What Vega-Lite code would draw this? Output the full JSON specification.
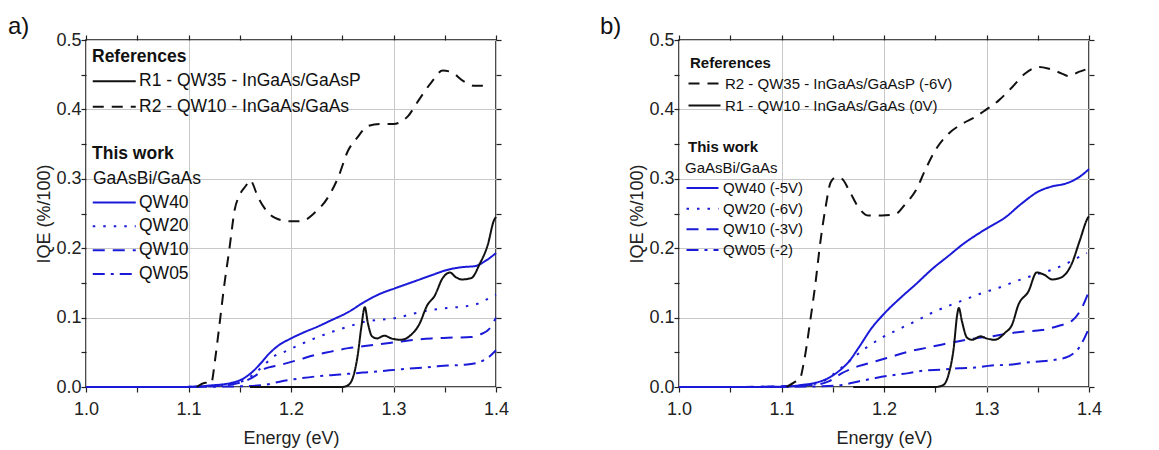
{
  "$schema": "https://vega.github.io/schema/vega-lite/v6.json",
  "padding": {"left": 7, "top": 14, "right": 0, "bottom": 0},
  "background": "white",
  "config": {
    "font": "Liberation Sans",
    "view": {"stroke": "#111", "strokeWidth": 1.5},
    "axis": {"labelFont": "Liberation Sans", "labelFontSize": 18, "titleFont": "Liberation Sans", "titleFontSize": 18, "titleFontWeight": "normal", "labelColor": "#222", "titleColor": "#222", "tickColor": "#222", "domain": false, "tickSize": 5, "tickWidth": 1.2, "labelFlush": false, "labelOverlap": false},
    "legend": {"labelFont": "Liberation Sans", "titleFont": "Liberation Sans", "labelColor": "#111", "titleColor": "#111", "padding": 0, "titleFontWeight": "bold", "labelLimit": 500, "titleLimit": 500}
  },
  "datasets": {
    "d": [
      {"p":"a","g":"w","s":"QW40","E":1.0,"v":0},{"p":"a","g":"w","s":"QW40","E":1.1,"v":0},{"p":"a","g":"w","s":"QW40","E":1.12,"v":0.002},{"p":"a","g":"w","s":"QW40","E":1.142,"v":0.006},{"p":"a","g":"w","s":"QW40","E":1.152,"v":0.011},{"p":"a","g":"w","s":"QW40","E":1.161,"v":0.02},{"p":"a","g":"w","s":"QW40","E":1.171,"v":0.035},{"p":"a","g":"w","s":"QW40","E":1.178,"v":0.047},{"p":"a","g":"w","s":"QW40","E":1.187,"v":0.059},{"p":"a","g":"w","s":"QW40","E":1.2,"v":0.07},{"p":"a","g":"w","s":"QW40","E":1.213,"v":0.079},{"p":"a","g":"w","s":"QW40","E":1.226,"v":0.087},{"p":"a","g":"w","s":"QW40","E":1.239,"v":0.096},{"p":"a","g":"w","s":"QW40","E":1.256,"v":0.108},{"p":"a","g":"w","s":"QW40","E":1.272,"v":0.123},{"p":"a","g":"w","s":"QW40","E":1.288,"v":0.135},{"p":"a","g":"w","s":"QW40","E":1.301,"v":0.142},{"p":"a","g":"w","s":"QW40","E":1.32,"v":0.152},{"p":"a","g":"w","s":"QW40","E":1.337,"v":0.161},{"p":"a","g":"w","s":"QW40","E":1.353,"v":0.169},{"p":"a","g":"w","s":"QW40","E":1.369,"v":0.173},{"p":"a","g":"w","s":"QW40","E":1.379,"v":0.174},{"p":"a","g":"w","s":"QW40","E":1.389,"v":0.181},{"p":"a","g":"w","s":"QW40","E":1.4,"v":0.193},
      {"p":"a","g":"w","s":"QW20","E":1.08,"v":0},{"p":"a","g":"w","s":"QW20","E":1.12,"v":0.001},{"p":"a","g":"w","s":"QW20","E":1.14,"v":0.004},{"p":"a","g":"w","s":"QW20","E":1.155,"v":0.01},{"p":"a","g":"w","s":"QW20","E":1.165,"v":0.02},{"p":"a","g":"w","s":"QW20","E":1.174,"v":0.032},{"p":"a","g":"w","s":"QW20","E":1.184,"v":0.045},{"p":"a","g":"w","s":"QW20","E":1.194,"v":0.051},{"p":"a","g":"w","s":"QW20","E":1.207,"v":0.06},{"p":"a","g":"w","s":"QW20","E":1.223,"v":0.07},{"p":"a","g":"w","s":"QW20","E":1.239,"v":0.079},{"p":"a","g":"w","s":"QW20","E":1.256,"v":0.087},{"p":"a","g":"w","s":"QW20","E":1.272,"v":0.094},{"p":"a","g":"w","s":"QW20","E":1.288,"v":0.097},{"p":"a","g":"w","s":"QW20","E":1.304,"v":0.1},{"p":"a","g":"w","s":"QW20","E":1.32,"v":0.106},{"p":"a","g":"w","s":"QW20","E":1.337,"v":0.111},{"p":"a","g":"w","s":"QW20","E":1.353,"v":0.114},{"p":"a","g":"w","s":"QW20","E":1.369,"v":0.116},{"p":"a","g":"w","s":"QW20","E":1.382,"v":0.12},{"p":"a","g":"w","s":"QW20","E":1.392,"v":0.127},{"p":"a","g":"w","s":"QW20","E":1.4,"v":0.133},
      {"p":"a","g":"w","s":"QW10","E":1.08,"v":0},{"p":"a","g":"w","s":"QW10","E":1.12,"v":0.001},{"p":"a","g":"w","s":"QW10","E":1.15,"v":0.006},{"p":"a","g":"w","s":"QW10","E":1.165,"v":0.016},{"p":"a","g":"w","s":"QW10","E":1.174,"v":0.026},{"p":"a","g":"w","s":"QW10","E":1.19,"v":0.032},{"p":"a","g":"w","s":"QW10","E":1.207,"v":0.039},{"p":"a","g":"w","s":"QW10","E":1.223,"v":0.046},{"p":"a","g":"w","s":"QW10","E":1.239,"v":0.051},{"p":"a","g":"w","s":"QW10","E":1.256,"v":0.056},{"p":"a","g":"w","s":"QW10","E":1.272,"v":0.059},{"p":"a","g":"w","s":"QW10","E":1.288,"v":0.062},{"p":"a","g":"w","s":"QW10","E":1.304,"v":0.065},{"p":"a","g":"w","s":"QW10","E":1.32,"v":0.068},{"p":"a","g":"w","s":"QW10","E":1.337,"v":0.07},{"p":"a","g":"w","s":"QW10","E":1.353,"v":0.071},{"p":"a","g":"w","s":"QW10","E":1.376,"v":0.072},{"p":"a","g":"w","s":"QW10","E":1.385,"v":0.076},{"p":"a","g":"w","s":"QW10","E":1.393,"v":0.083},{"p":"a","g":"w","s":"QW10","E":1.4,"v":0.1},
      {"p":"a","g":"w","s":"QW05","E":1.08,"v":0},{"p":"a","g":"w","s":"QW05","E":1.15,"v":0.001},{"p":"a","g":"w","s":"QW05","E":1.174,"v":0.003},{"p":"a","g":"w","s":"QW05","E":1.19,"v":0.008},{"p":"a","g":"w","s":"QW05","E":1.207,"v":0.012},{"p":"a","g":"w","s":"QW05","E":1.223,"v":0.015},{"p":"a","g":"w","s":"QW05","E":1.239,"v":0.017},{"p":"a","g":"w","s":"QW05","E":1.256,"v":0.019},{"p":"a","g":"w","s":"QW05","E":1.272,"v":0.021},{"p":"a","g":"w","s":"QW05","E":1.288,"v":0.023},{"p":"a","g":"w","s":"QW05","E":1.304,"v":0.025},{"p":"a","g":"w","s":"QW05","E":1.32,"v":0.027},{"p":"a","g":"w","s":"QW05","E":1.337,"v":0.029},{"p":"a","g":"w","s":"QW05","E":1.353,"v":0.031},{"p":"a","g":"w","s":"QW05","E":1.369,"v":0.032},{"p":"a","g":"w","s":"QW05","E":1.382,"v":0.035},{"p":"a","g":"w","s":"QW05","E":1.392,"v":0.042},{"p":"a","g":"w","s":"QW05","E":1.4,"v":0.053},
      {"p":"a","g":"r","s":"R1 - QW35 - InGaAs/GaAsP","E":1.16,"v":0},{"p":"a","g":"r","s":"R1 - QW35 - InGaAs/GaAsP","E":1.25,"v":0},{"p":"a","g":"r","s":"R1 - QW35 - InGaAs/GaAsP","E":1.255,"v":0.002},{"p":"a","g":"r","s":"R1 - QW35 - InGaAs/GaAsP","E":1.26,"v":0.012},{"p":"a","g":"r","s":"R1 - QW35 - InGaAs/GaAsP","E":1.265,"v":0.045},{"p":"a","g":"r","s":"R1 - QW35 - InGaAs/GaAsP","E":1.2685,"v":0.085},{"p":"a","g":"r","s":"R1 - QW35 - InGaAs/GaAsP","E":1.272,"v":0.115},{"p":"a","g":"r","s":"R1 - QW35 - InGaAs/GaAsP","E":1.275,"v":0.092},{"p":"a","g":"r","s":"R1 - QW35 - InGaAs/GaAsP","E":1.279,"v":0.073},{"p":"a","g":"r","s":"R1 - QW35 - InGaAs/GaAsP","E":1.284,"v":0.07},{"p":"a","g":"r","s":"R1 - QW35 - InGaAs/GaAsP","E":1.291,"v":0.074},{"p":"a","g":"r","s":"R1 - QW35 - InGaAs/GaAsP","E":1.298,"v":0.07},{"p":"a","g":"r","s":"R1 - QW35 - InGaAs/GaAsP","E":1.307,"v":0.068},{"p":"a","g":"r","s":"R1 - QW35 - InGaAs/GaAsP","E":1.317,"v":0.075},{"p":"a","g":"r","s":"R1 - QW35 - InGaAs/GaAsP","E":1.325,"v":0.09},{"p":"a","g":"r","s":"R1 - QW35 - InGaAs/GaAsP","E":1.333,"v":0.118},{"p":"a","g":"r","s":"R1 - QW35 - InGaAs/GaAsP","E":1.34,"v":0.131},{"p":"a","g":"r","s":"R1 - QW35 - InGaAs/GaAsP","E":1.348,"v":0.157},{"p":"a","g":"r","s":"R1 - QW35 - InGaAs/GaAsP","E":1.355,"v":0.165},{"p":"a","g":"r","s":"R1 - QW35 - InGaAs/GaAsP","E":1.361,"v":0.158},{"p":"a","g":"r","s":"R1 - QW35 - InGaAs/GaAsP","E":1.367,"v":0.155},{"p":"a","g":"r","s":"R1 - QW35 - InGaAs/GaAsP","E":1.376,"v":0.157},{"p":"a","g":"r","s":"R1 - QW35 - InGaAs/GaAsP","E":1.384,"v":0.177},{"p":"a","g":"r","s":"R1 - QW35 - InGaAs/GaAsP","E":1.392,"v":0.205},{"p":"a","g":"r","s":"R1 - QW35 - InGaAs/GaAsP","E":1.398,"v":0.24},{"p":"a","g":"r","s":"R1 - QW35 - InGaAs/GaAsP","E":1.4,"v":0.245},
      {"p":"a","g":"r","s":"R2 - QW10 - InGaAs/GaAs","E":1.108,"v":0},{"p":"a","g":"r","s":"R2 - QW10 - InGaAs/GaAs","E":1.117,"v":0.006},{"p":"a","g":"r","s":"R2 - QW10 - InGaAs/GaAs","E":1.122,"v":0.005},{"p":"a","g":"r","s":"R2 - QW10 - InGaAs/GaAs","E":1.126,"v":0.04},{"p":"a","g":"r","s":"R2 - QW10 - InGaAs/GaAs","E":1.129,"v":0.075},{"p":"a","g":"r","s":"R2 - QW10 - InGaAs/GaAs","E":1.135,"v":0.148},{"p":"a","g":"r","s":"R2 - QW10 - InGaAs/GaAs","E":1.14,"v":0.2},{"p":"a","g":"r","s":"R2 - QW10 - InGaAs/GaAs","E":1.145,"v":0.255},{"p":"a","g":"r","s":"R2 - QW10 - InGaAs/GaAs","E":1.15,"v":0.277},{"p":"a","g":"r","s":"R2 - QW10 - InGaAs/GaAs","E":1.156,"v":0.29},{"p":"a","g":"r","s":"R2 - QW10 - InGaAs/GaAs","E":1.16,"v":0.298},{"p":"a","g":"r","s":"R2 - QW10 - InGaAs/GaAs","E":1.168,"v":0.273},{"p":"a","g":"r","s":"R2 - QW10 - InGaAs/GaAs","E":1.174,"v":0.258},{"p":"a","g":"r","s":"R2 - QW10 - InGaAs/GaAs","E":1.184,"v":0.244},{"p":"a","g":"r","s":"R2 - QW10 - InGaAs/GaAs","E":1.197,"v":0.239},{"p":"a","g":"r","s":"R2 - QW10 - InGaAs/GaAs","E":1.21,"v":0.239},{"p":"a","g":"r","s":"R2 - QW10 - InGaAs/GaAs","E":1.223,"v":0.251},{"p":"a","g":"r","s":"R2 - QW10 - InGaAs/GaAs","E":1.236,"v":0.273},{"p":"a","g":"r","s":"R2 - QW10 - InGaAs/GaAs","E":1.246,"v":0.302},{"p":"a","g":"r","s":"R2 - QW10 - InGaAs/GaAs","E":1.2555,"v":0.34},{"p":"a","g":"r","s":"R2 - QW10 - InGaAs/GaAs","E":1.265,"v":0.36},{"p":"a","g":"r","s":"R2 - QW10 - InGaAs/GaAs","E":1.275,"v":0.376},{"p":"a","g":"r","s":"R2 - QW10 - InGaAs/GaAs","E":1.288,"v":0.379},{"p":"a","g":"r","s":"R2 - QW10 - InGaAs/GaAs","E":1.3,"v":0.379},{"p":"a","g":"r","s":"R2 - QW10 - InGaAs/GaAs","E":1.307,"v":0.382},{"p":"a","g":"r","s":"R2 - QW10 - InGaAs/GaAs","E":1.314,"v":0.39},{"p":"a","g":"r","s":"R2 - QW10 - InGaAs/GaAs","E":1.324,"v":0.412},{"p":"a","g":"r","s":"R2 - QW10 - InGaAs/GaAs","E":1.337,"v":0.439},{"p":"a","g":"r","s":"R2 - QW10 - InGaAs/GaAs","E":1.348,"v":0.456},{"p":"a","g":"r","s":"R2 - QW10 - InGaAs/GaAs","E":1.356,"v":0.454},{"p":"a","g":"r","s":"R2 - QW10 - InGaAs/GaAs","E":1.369,"v":0.44},{"p":"a","g":"r","s":"R2 - QW10 - InGaAs/GaAs","E":1.379,"v":0.434},{"p":"a","g":"r","s":"R2 - QW10 - InGaAs/GaAs","E":1.395,"v":0.434},
      {"p":"b","g":"w","s":"QW40 (-5V)","E":1.0,"v":0},{"p":"b","g":"w","s":"QW40 (-5V)","E":1.1,"v":0},{"p":"b","g":"w","s":"QW40 (-5V)","E":1.12,"v":0.003},{"p":"b","g":"w","s":"QW40 (-5V)","E":1.133,"v":0.006},{"p":"b","g":"w","s":"QW40 (-5V)","E":1.146,"v":0.013},{"p":"b","g":"w","s":"QW40 (-5V)","E":1.156,"v":0.023},{"p":"b","g":"w","s":"QW40 (-5V)","E":1.166,"v":0.037},{"p":"b","g":"w","s":"QW40 (-5V)","E":1.175,"v":0.056},{"p":"b","g":"w","s":"QW40 (-5V)","E":1.188,"v":0.085},{"p":"b","g":"w","s":"QW40 (-5V)","E":1.201,"v":0.107},{"p":"b","g":"w","s":"QW40 (-5V)","E":1.218,"v":0.131},{"p":"b","g":"w","s":"QW40 (-5V)","E":1.231,"v":0.148},{"p":"b","g":"w","s":"QW40 (-5V)","E":1.247,"v":0.17},{"p":"b","g":"w","s":"QW40 (-5V)","E":1.263,"v":0.189},{"p":"b","g":"w","s":"QW40 (-5V)","E":1.279,"v":0.208},{"p":"b","g":"w","s":"QW40 (-5V)","E":1.289,"v":0.218},{"p":"b","g":"w","s":"QW40 (-5V)","E":1.302,"v":0.23},{"p":"b","g":"w","s":"QW40 (-5V)","E":1.318,"v":0.244},{"p":"b","g":"w","s":"QW40 (-5V)","E":1.334,"v":0.264},{"p":"b","g":"w","s":"QW40 (-5V)","E":1.351,"v":0.282},{"p":"b","g":"w","s":"QW40 (-5V)","E":1.364,"v":0.289},{"p":"b","g":"w","s":"QW40 (-5V)","E":1.377,"v":0.293},{"p":"b","g":"w","s":"QW40 (-5V)","E":1.39,"v":0.302},{"p":"b","g":"w","s":"QW40 (-5V)","E":1.4,"v":0.314},
      {"p":"b","g":"w","s":"QW20 (-6V)","E":1.06,"v":0},{"p":"b","g":"w","s":"QW20 (-6V)","E":1.12,"v":0.002},{"p":"b","g":"w","s":"QW20 (-6V)","E":1.14,"v":0.008},{"p":"b","g":"w","s":"QW20 (-6V)","E":1.152,"v":0.02},{"p":"b","g":"w","s":"QW20 (-6V)","E":1.166,"v":0.037},{"p":"b","g":"w","s":"QW20 (-6V)","E":1.182,"v":0.056},{"p":"b","g":"w","s":"QW20 (-6V)","E":1.198,"v":0.071},{"p":"b","g":"w","s":"QW20 (-6V)","E":1.214,"v":0.083},{"p":"b","g":"w","s":"QW20 (-6V)","E":1.231,"v":0.095},{"p":"b","g":"w","s":"QW20 (-6V)","E":1.247,"v":0.107},{"p":"b","g":"w","s":"QW20 (-6V)","E":1.263,"v":0.117},{"p":"b","g":"w","s":"QW20 (-6V)","E":1.279,"v":0.126},{"p":"b","g":"w","s":"QW20 (-6V)","E":1.295,"v":0.135},{"p":"b","g":"w","s":"QW20 (-6V)","E":1.312,"v":0.143},{"p":"b","g":"w","s":"QW20 (-6V)","E":1.328,"v":0.152},{"p":"b","g":"w","s":"QW20 (-6V)","E":1.344,"v":0.16},{"p":"b","g":"w","s":"QW20 (-6V)","E":1.36,"v":0.167},{"p":"b","g":"w","s":"QW20 (-6V)","E":1.377,"v":0.177},{"p":"b","g":"w","s":"QW20 (-6V)","E":1.39,"v":0.187},{"p":"b","g":"w","s":"QW20 (-6V)","E":1.398,"v":0.193},
      {"p":"b","g":"w","s":"QW10 (-3V)","E":1.06,"v":0},{"p":"b","g":"w","s":"QW10 (-3V)","E":1.13,"v":0.003},{"p":"b","g":"w","s":"QW10 (-3V)","E":1.146,"v":0.008},{"p":"b","g":"w","s":"QW10 (-3V)","E":1.159,"v":0.02},{"p":"b","g":"w","s":"QW10 (-3V)","E":1.175,"v":0.03},{"p":"b","g":"w","s":"QW10 (-3V)","E":1.192,"v":0.037},{"p":"b","g":"w","s":"QW10 (-3V)","E":1.208,"v":0.044},{"p":"b","g":"w","s":"QW10 (-3V)","E":1.224,"v":0.051},{"p":"b","g":"w","s":"QW10 (-3V)","E":1.24,"v":0.056},{"p":"b","g":"w","s":"QW10 (-3V)","E":1.256,"v":0.061},{"p":"b","g":"w","s":"QW10 (-3V)","E":1.273,"v":0.066},{"p":"b","g":"w","s":"QW10 (-3V)","E":1.289,"v":0.07},{"p":"b","g":"w","s":"QW10 (-3V)","E":1.305,"v":0.073},{"p":"b","g":"w","s":"QW10 (-3V)","E":1.321,"v":0.077},{"p":"b","g":"w","s":"QW10 (-3V)","E":1.338,"v":0.08},{"p":"b","g":"w","s":"QW10 (-3V)","E":1.354,"v":0.082},{"p":"b","g":"w","s":"QW10 (-3V)","E":1.37,"v":0.088},{"p":"b","g":"w","s":"QW10 (-3V)","E":1.383,"v":0.095},{"p":"b","g":"w","s":"QW10 (-3V)","E":1.393,"v":0.114},{"p":"b","g":"w","s":"QW10 (-3V)","E":1.4,"v":0.138},
      {"p":"b","g":"w","s":"QW05 (-2)","E":1.06,"v":0},{"p":"b","g":"w","s":"QW05 (-2)","E":1.14,"v":0.001},{"p":"b","g":"w","s":"QW05 (-2)","E":1.159,"v":0.003},{"p":"b","g":"w","s":"QW05 (-2)","E":1.175,"v":0.008},{"p":"b","g":"w","s":"QW05 (-2)","E":1.192,"v":0.013},{"p":"b","g":"w","s":"QW05 (-2)","E":1.208,"v":0.017},{"p":"b","g":"w","s":"QW05 (-2)","E":1.224,"v":0.02},{"p":"b","g":"w","s":"QW05 (-2)","E":1.24,"v":0.024},{"p":"b","g":"w","s":"QW05 (-2)","E":1.256,"v":0.025},{"p":"b","g":"w","s":"QW05 (-2)","E":1.273,"v":0.027},{"p":"b","g":"w","s":"QW05 (-2)","E":1.289,"v":0.028},{"p":"b","g":"w","s":"QW05 (-2)","E":1.305,"v":0.031},{"p":"b","g":"w","s":"QW05 (-2)","E":1.321,"v":0.032},{"p":"b","g":"w","s":"QW05 (-2)","E":1.338,"v":0.035},{"p":"b","g":"w","s":"QW05 (-2)","E":1.354,"v":0.037},{"p":"b","g":"w","s":"QW05 (-2)","E":1.37,"v":0.04},{"p":"b","g":"w","s":"QW05 (-2)","E":1.38,"v":0.044},{"p":"b","g":"w","s":"QW05 (-2)","E":1.39,"v":0.056},{"p":"b","g":"w","s":"QW05 (-2)","E":1.4,"v":0.085},
      {"p":"b","g":"r","s":"R1 - QW10 - InGaAs/GaAs (0V)","E":1.17,"v":0},{"p":"b","g":"r","s":"R1 - QW10 - InGaAs/GaAs (0V)","E":1.25,"v":0},{"p":"b","g":"r","s":"R1 - QW10 - InGaAs/GaAs (0V)","E":1.258,"v":0.003},{"p":"b","g":"r","s":"R1 - QW10 - InGaAs/GaAs (0V)","E":1.263,"v":0.018},{"p":"b","g":"r","s":"R1 - QW10 - InGaAs/GaAs (0V)","E":1.268,"v":0.056},{"p":"b","g":"r","s":"R1 - QW10 - InGaAs/GaAs (0V)","E":1.2715,"v":0.105},{"p":"b","g":"r","s":"R1 - QW10 - InGaAs/GaAs (0V)","E":1.273,"v":0.114},{"p":"b","g":"r","s":"R1 - QW10 - InGaAs/GaAs (0V)","E":1.276,"v":0.095},{"p":"b","g":"r","s":"R1 - QW10 - InGaAs/GaAs (0V)","E":1.281,"v":0.071},{"p":"b","g":"r","s":"R1 - QW10 - InGaAs/GaAs (0V)","E":1.286,"v":0.068},{"p":"b","g":"r","s":"R1 - QW10 - InGaAs/GaAs (0V)","E":1.294,"v":0.073},{"p":"b","g":"r","s":"R1 - QW10 - InGaAs/GaAs (0V)","E":1.3,"v":0.07},{"p":"b","g":"r","s":"R1 - QW10 - InGaAs/GaAs (0V)","E":1.308,"v":0.068},{"p":"b","g":"r","s":"R1 - QW10 - InGaAs/GaAs (0V)","E":1.318,"v":0.078},{"p":"b","g":"r","s":"R1 - QW10 - InGaAs/GaAs (0V)","E":1.325,"v":0.09},{"p":"b","g":"r","s":"R1 - QW10 - InGaAs/GaAs (0V)","E":1.331,"v":0.118},{"p":"b","g":"r","s":"R1 - QW10 - InGaAs/GaAs (0V)","E":1.341,"v":0.138},{"p":"b","g":"r","s":"R1 - QW10 - InGaAs/GaAs (0V)","E":1.349,"v":0.165},{"p":"b","g":"r","s":"R1 - QW10 - InGaAs/GaAs (0V)","E":1.356,"v":0.162},{"p":"b","g":"r","s":"R1 - QW10 - InGaAs/GaAs (0V)","E":1.364,"v":0.155},{"p":"b","g":"r","s":"R1 - QW10 - InGaAs/GaAs (0V)","E":1.373,"v":0.158},{"p":"b","g":"r","s":"R1 - QW10 - InGaAs/GaAs (0V)","E":1.383,"v":0.177},{"p":"b","g":"r","s":"R1 - QW10 - InGaAs/GaAs (0V)","E":1.391,"v":0.211},{"p":"b","g":"r","s":"R1 - QW10 - InGaAs/GaAs (0V)","E":1.399,"v":0.244},{"p":"b","g":"r","s":"R1 - QW10 - InGaAs/GaAs (0V)","E":1.4,"v":0.246},
      {"p":"b","g":"r","s":"R2 - QW35 - InGaAs/GaAsP (-6V)","E":1.105,"v":0},{"p":"b","g":"r","s":"R2 - QW35 - InGaAs/GaAsP (-6V)","E":1.114,"v":0.008},{"p":"b","g":"r","s":"R2 - QW35 - InGaAs/GaAsP (-6V)","E":1.118,"v":0.012},{"p":"b","g":"r","s":"R2 - QW35 - InGaAs/GaAsP (-6V)","E":1.122,"v":0.037},{"p":"b","g":"r","s":"R2 - QW35 - InGaAs/GaAsP (-6V)","E":1.128,"v":0.095},{"p":"b","g":"r","s":"R2 - QW35 - InGaAs/GaAsP (-6V)","E":1.133,"v":0.148},{"p":"b","g":"r","s":"R2 - QW35 - InGaAs/GaAsP (-6V)","E":1.138,"v":0.21},{"p":"b","g":"r","s":"R2 - QW35 - InGaAs/GaAsP (-6V)","E":1.143,"v":0.259},{"p":"b","g":"r","s":"R2 - QW35 - InGaAs/GaAsP (-6V)","E":1.148,"v":0.295},{"p":"b","g":"r","s":"R2 - QW35 - InGaAs/GaAsP (-6V)","E":1.153,"v":0.302},{"p":"b","g":"r","s":"R2 - QW35 - InGaAs/GaAsP (-6V)","E":1.159,"v":0.3},{"p":"b","g":"r","s":"R2 - QW35 - InGaAs/GaAsP (-6V)","E":1.166,"v":0.283},{"p":"b","g":"r","s":"R2 - QW35 - InGaAs/GaAsP (-6V)","E":1.175,"v":0.259},{"p":"b","g":"r","s":"R2 - QW35 - InGaAs/GaAsP (-6V)","E":1.185,"v":0.247},{"p":"b","g":"r","s":"R2 - QW35 - InGaAs/GaAsP (-6V)","E":1.198,"v":0.247},{"p":"b","g":"r","s":"R2 - QW35 - InGaAs/GaAsP (-6V)","E":1.211,"v":0.249},{"p":"b","g":"r","s":"R2 - QW35 - InGaAs/GaAsP (-6V)","E":1.221,"v":0.264},{"p":"b","g":"r","s":"R2 - QW35 - InGaAs/GaAsP (-6V)","E":1.231,"v":0.283},{"p":"b","g":"r","s":"R2 - QW35 - InGaAs/GaAsP (-6V)","E":1.24,"v":0.312},{"p":"b","g":"r","s":"R2 - QW35 - InGaAs/GaAsP (-6V)","E":1.25,"v":0.341},{"p":"b","g":"r","s":"R2 - QW35 - InGaAs/GaAsP (-6V)","E":1.263,"v":0.365},{"p":"b","g":"r","s":"R2 - QW35 - InGaAs/GaAsP (-6V)","E":1.276,"v":0.379},{"p":"b","g":"r","s":"R2 - QW35 - InGaAs/GaAsP (-6V)","E":1.289,"v":0.389},{"p":"b","g":"r","s":"R2 - QW35 - InGaAs/GaAsP (-6V)","E":1.299,"v":0.399},{"p":"b","g":"r","s":"R2 - QW35 - InGaAs/GaAsP (-6V)","E":1.312,"v":0.413},{"p":"b","g":"r","s":"R2 - QW35 - InGaAs/GaAsP (-6V)","E":1.325,"v":0.432},{"p":"b","g":"r","s":"R2 - QW35 - InGaAs/GaAsP (-6V)","E":1.338,"v":0.452},{"p":"b","g":"r","s":"R2 - QW35 - InGaAs/GaAsP (-6V)","E":1.351,"v":0.461},{"p":"b","g":"r","s":"R2 - QW35 - InGaAs/GaAsP (-6V)","E":1.36,"v":0.459},{"p":"b","g":"r","s":"R2 - QW35 - InGaAs/GaAsP (-6V)","E":1.373,"v":0.452},{"p":"b","g":"r","s":"R2 - QW35 - InGaAs/GaAsP (-6V)","E":1.38,"v":0.448},{"p":"b","g":"r","s":"R2 - QW35 - InGaAs/GaAsP (-6V)","E":1.39,"v":0.454},{"p":"b","g":"r","s":"R2 - QW35 - InGaAs/GaAsP (-6V)","E":1.4,"v":0.459}
    ]
  },
  "spacing": 89,
  "resolve": {"scale": {"x": "independent", "y": "independent", "strokeDash": "independent"}, "legend": {"strokeDash": "independent"}},
  "hconcat": [
    {
      "width": 410, "height": 347,
      "title": {"text": "a)", "anchor": "start", "frame": "group", "dx": -78, "fontSize": 24, "fontWeight": "normal", "offset": -8, "color": "#111", "font": "Liberation Sans"},
      "data": {"name": "d"},
      "resolve": {"scale": {"strokeDash": "independent"}, "legend": {"strokeDash": "independent"}},
      "layer": [
        {
          "transform": [{"filter": "datum.p == 'a' && datum.g == 'w'"}],
          "mark": {"type": "line", "color": "#1a1ad8", "strokeWidth": 2, "interpolate": "monotone"},
          "encoding": {
            "x": {"field": "E", "type": "quantitative", "scale": {"domain": [1.0, 1.4], "nice": false, "zero": false},
              "axis": {"orient": "bottom", "title": "Energy (eV)", "values": [1.0,1.05,1.1,1.15,1.2,1.25,1.3,1.35,1.4], "labelExpr": "round(datum.value*100) % 10 == 0 ? format(datum.value, '.1f') : ''", "grid": true, "gridColor": {"condition": {"test": "round(datum.value*100) % 10 != 0", "value": "transparent"}, "value": "#c8c8c8"}, "labelPadding": 8, "titlePadding": 11}},
            "y": {"field": "v", "type": "quantitative", "scale": {"domain": [0, 0.5], "nice": false},
              "axis": {"orient": "left", "title": "IQE (%/100)", "values": [0,0.05,0.1,0.15,0.2,0.25,0.3,0.35,0.4,0.45,0.5], "labelExpr": "round(datum.value*100) % 10 == 0 ? format(datum.value, '.1f') : ''", "grid": true, "gridColor": {"condition": {"test": "round(datum.value*100) % 10 != 0", "value": "transparent"}, "value": "#c8c8c8"}, "labelPadding": 0, "titlePadding": 2}},
            "strokeDash": {"field": "s", "type": "nominal",
              "scale": {"domain": ["GaAsBi/GaAs", "QW40", "QW20", "QW10", "QW05"], "range": [[0, 1000], [1, 0], [2.5, 8], [12, 8], [12, 6, 3, 6]]},
              "legend": {"title": "This work", "orient": "none", "legendX": 6, "legendY": 105, "symbolType": "M-4.3,0H4.3", "symbolSize": 100, "symbolStrokeWidth": 2, "symbolStrokeColor": "#1a1ad8", "symbolFillColor": "transparent", "symbolOffset": 13.5, "labelOffset": 16, "labelFontSize": 17.5, "titleFontSize": 17.5, "titlePadding": 7.5, "rowPadding": 4.8,
                "encode": {"labels": {"update": {"dx": {"signal": "datum.label == 'GaAsBi/GaAs' ? -46 : 0"}}}}}}
          }
        },
        {
          "transform": [{"filter": "datum.p == 'a' && datum.g == 'r'"}],
          "mark": {"type": "line", "color": "#111", "strokeWidth": 2, "interpolate": "monotone"},
          "encoding": {
            "x": {"field": "E", "type": "quantitative", "scale": {"domain": [1.0, 1.4], "nice": false, "zero": false},
              "axis": {"orient": "top", "title": null, "labels": false, "grid": false, "values": [1.0,1.05,1.1,1.15,1.2,1.25,1.3,1.35,1.4]}},
            "y": {"field": "v", "type": "quantitative", "scale": {"domain": [0, 0.5], "nice": false},
              "axis": {"orient": "right", "title": null, "labels": false, "grid": false, "values": [0,0.05,0.1,0.15,0.2,0.25,0.3,0.35,0.4,0.45,0.5]}},
            "strokeDash": {"field": "s", "type": "nominal",
              "scale": {"domain": ["R1 - QW35 - InGaAs/GaAsP", "R2 - QW10 - InGaAs/GaAs"], "range": [[1, 0], [11, 8]]},
              "legend": {"title": "References", "orient": "none", "legendX": 6, "legendY": 8, "symbolType": "M-4.3,0H4.3", "symbolSize": 100, "symbolStrokeWidth": 2, "symbolStrokeColor": "#111", "symbolFillColor": "transparent", "symbolOffset": 13.5, "labelOffset": 16, "labelFontSize": 17.5, "titleFontSize": 17.5, "titlePadding": 7, "rowPadding": 6.5}}
          }
        }
      ]
    },
    {
      "width": 410, "height": 347,
      "title": {"text": "b)", "anchor": "start", "frame": "group", "dx": -79, "fontSize": 24, "fontWeight": "normal", "offset": -8, "color": "#111", "font": "Liberation Sans"},
      "data": {"name": "d"},
      "resolve": {"scale": {"strokeDash": "independent"}, "legend": {"strokeDash": "independent"}},
      "layer": [
        {
          "transform": [{"filter": "datum.p == 'b' && datum.g == 'w'"}],
          "mark": {"type": "line", "color": "#1a1ad8", "strokeWidth": 2, "interpolate": "monotone"},
          "encoding": {
            "x": {"field": "E", "type": "quantitative", "scale": {"domain": [1.0, 1.4], "nice": false, "zero": false},
              "axis": {"orient": "bottom", "title": "Energy (eV)", "values": [1.0,1.05,1.1,1.15,1.2,1.25,1.3,1.35,1.4], "labelExpr": "round(datum.value*100) % 10 == 0 ? format(datum.value, '.1f') : ''", "grid": true, "gridColor": {"condition": {"test": "round(datum.value*100) % 10 != 0", "value": "transparent"}, "value": "#c8c8c8"}, "labelPadding": 8, "titlePadding": 11}},
            "y": {"field": "v", "type": "quantitative", "scale": {"domain": [0, 0.5], "nice": false},
              "axis": {"orient": "left", "title": "IQE (%/100)", "values": [0,0.05,0.1,0.15,0.2,0.25,0.3,0.35,0.4,0.45,0.5], "labelExpr": "round(datum.value*100) % 10 == 0 ? format(datum.value, '.1f') : ''", "grid": true, "gridColor": {"condition": {"test": "round(datum.value*100) % 10 != 0", "value": "transparent"}, "value": "#c8c8c8"}, "labelPadding": 0, "titlePadding": 2}},
            "strokeDash": {"field": "s", "type": "nominal",
              "scale": {"domain": ["GaAsBi/GaAs", "QW40 (-5V)", "QW20 (-6V)", "QW10 (-3V)", "QW05 (-2)"], "range": [[0, 1000], [1, 0], [2.5, 8], [12, 8], [12, 6, 3, 6]]},
              "legend": {"title": "This work", "orient": "none", "legendX": 9, "legendY": 100, "symbolType": "M-3.2,0H3.2", "symbolSize": 100, "symbolStrokeWidth": 2, "symbolStrokeColor": "#1a1ad8", "symbolFillColor": "transparent", "symbolOffset": 7, "labelOffset": 13, "labelFontSize": 15, "titleFontSize": 15, "titlePadding": 5, "rowPadding": 4.6,
                "encode": {"labels": {"update": {"dx": {"signal": "datum.label == 'GaAsBi/GaAs' ? -38 : 0"}}}}}}
          }
        },
        {
          "transform": [{"filter": "datum.p == 'b' && datum.g == 'r'"}],
          "mark": {"type": "line", "color": "#111", "strokeWidth": 2, "interpolate": "monotone"},
          "encoding": {
            "x": {"field": "E", "type": "quantitative", "scale": {"domain": [1.0, 1.4], "nice": false, "zero": false},
              "axis": {"orient": "top", "title": null, "labels": false, "grid": false, "values": [1.0,1.05,1.1,1.15,1.2,1.25,1.3,1.35,1.4]}},
            "y": {"field": "v", "type": "quantitative", "scale": {"domain": [0, 0.5], "nice": false},
              "axis": {"orient": "right", "title": null, "labels": false, "grid": false, "values": [0,0.05,0.1,0.15,0.2,0.25,0.3,0.35,0.4,0.45,0.5]}},
            "strokeDash": {"field": "s", "type": "nominal",
              "scale": {"domain": ["R2 - QW35 - InGaAs/GaAsP (-6V)", "R1 - QW10 - InGaAs/GaAs (0V)"], "range": [[11, 8], [1, 0]]},
              "legend": {"title": "References", "orient": "none", "legendX": 11, "legendY": 16, "symbolType": "M-3.2,0H3.2", "symbolSize": 100, "symbolStrokeWidth": 2, "symbolStrokeColor": "#111", "symbolFillColor": "transparent", "symbolOffset": 7, "labelOffset": 13, "labelFontSize": 15, "titleFontSize": 15, "titlePadding": 5, "rowPadding": 6}}
          }
        }
      ]
    }
  ]
}
